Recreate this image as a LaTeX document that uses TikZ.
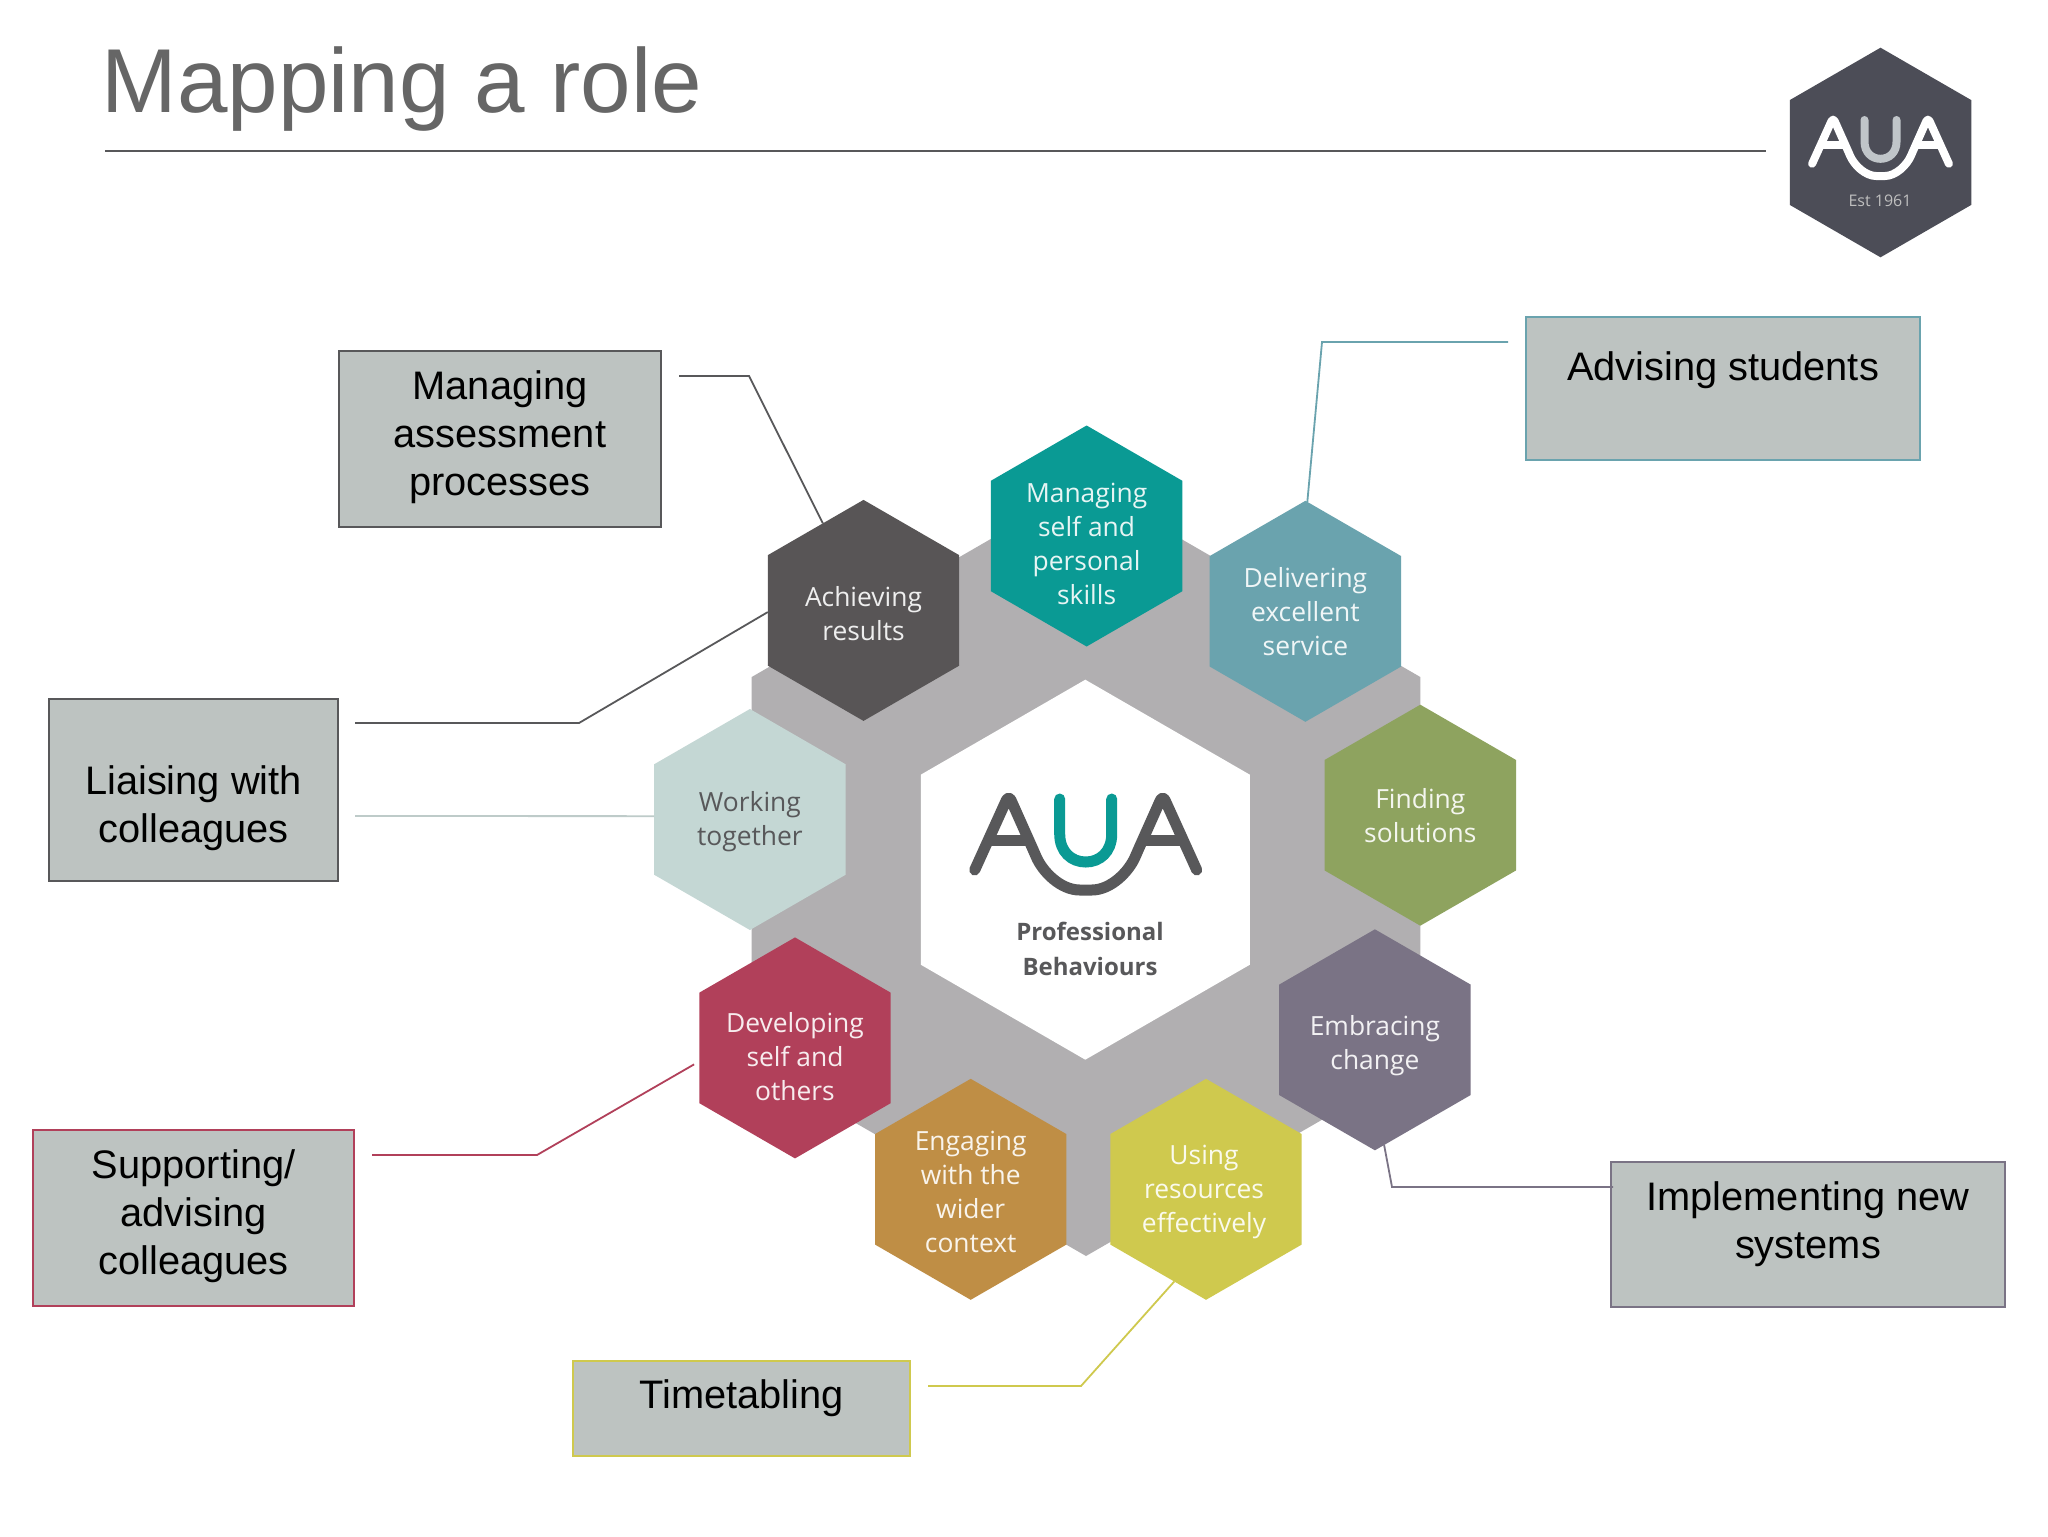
\documentclass[tikz,border=0pt]{standalone}
\usepackage{fontspec}
\setmainfont{Liberation Sans}
\newfontfamily\hexfont{Open Sans}
\usetikzlibrary{shapes.geometric}
\definecolor{boxfill}{HTML}{BDC3C1}
\definecolor{cgray}{HTML}{B1AFB1}
\definecolor{ctitle}{HTML}{666666}
\definecolor{cmanage}{HTML}{0A9A94}
\definecolor{cachieve}{HTML}{585556}
\definecolor{cdeliver}{HTML}{6AA3AE}
\definecolor{cfind}{HTML}{8EA35F}
\definecolor{cembrace}{HTML}{7A7385}
\definecolor{cuse}{HTML}{CFC94E}
\definecolor{cengage}{HTML}{BF8E45}
\definecolor{cdevelop}{HTML}{B1405A}
\definecolor{cwork}{HTML}{C4D7D4}
\definecolor{clogo}{HTML}{4C4D57}
\definecolor{cdark}{HTML}{58585A}
\definecolor{cbadgeu}{HTML}{C0C5C9}
\tikzset{
  hexbase/.style={regular polygon,regular polygon sides=6,shape border rotate=30,inner sep=0pt,outer sep=0pt,draw=none},
  hexa/.style={hexbase,inner ysep=-8pt,inner xsep=-8pt,minimum size=110.5pt,fill=#1,align=center,font=\hexfont\fontsize{13.2}{17}\selectfont,text=white!90!#1},
  lbox/.style n args={3}{rectangle,inner sep=0pt,outer sep=0pt,draw=#1,line width=1pt,fill=boxfill,minimum width=#2,minimum height=#3,align=center,font=\fontsize{19.9}{24}\selectfont,text=black},
  conn/.style={draw=#1,line width=0.9pt,line join=miter}
}
% pushes the text of a hexagon down by #1 (first-line strut)
\newcommand{\hexdown}[1]{\rule{0pt}{\dimexpr 10pt+2\dimexpr #1\relax\relax}}
\newcommand{\aualogo}[7]{%
  \begin{scope}[shift={(#1,#2)},scale=#3]
    \draw[#5,line width=#4,line cap=round] (-26,0) -- (-26,35) .. controls (-26,53) and (-14,63) .. (0,63) .. controls (14,63) and (26,53) .. (26,35) -- (26,0);
    \draw[#6,line width=#4,line cap=round,line join=round,rounded corners=#7] (-111,71) -- (-77,-4) -- (-52,52) .. controls (-43,73) and (-25,91) .. (0,91) .. controls (25,91) and (43,73) .. (52,52) -- (77,-4) -- (111,71);
    \draw[#6,line width=#4] (-96,41) -- (-57,41);
    \draw[#6,line width=#4] (96,41) -- (57,41);
  \end{scope}}
\begin{document}
\begin{tikzpicture}[x=0.5pt,y=-0.5pt]
\useasboundingbox[fill=white] (0,0) rectangle (2048,1536);
% title
\node[anchor=base west,inner sep=0pt,text=ctitle,font=\fontsize{45.4}{50}\selectfont] (title) at (101,112.5) {Mapping a role};
\coordinate (ruleL) at (105,151);
\coordinate (ruleR) at (1766,151);
\draw[cdark,line width=1pt] (ruleL) -- (ruleR);
% small logo
\node[hexbase,minimum size=104.8pt,fill=clogo] (badge) at (1880.5,152.5) {};
\aualogo{1880.5}{120}{0.616}{4pt}{cbadgeu}{white}{2pt}
\node[inner sep=0pt,text=black!25!white,font=\hexfont\fontsize{8}{10}\selectfont] (est) at (1880,201) {Est 1961};
% wheel
\node[hexbase,minimum size=386pt,fill=cgray] (wheel) at (1086,870) {};
\node[hexbase,minimum size=190pt,fill=white] (core) at (1085.3,869.7) {};
\aualogo{1085.7}{799}{1}{5.5pt}{cmanage}{cdark}{3pt}
\node[inner sep=0pt,align=center,text=cdark,font=\hexfont\bfseries\fontsize{12}{17.5}\selectfont] (prof) at (1090,949) {Professional\\Behaviours};
\node[hexa=cmanage] (manage) at (1086.6,536) {\hexdown{4pt}Managing\\self and\\personal\\skills};
\node[hexa=cachieve] (achieve) at (863.5,610.4) {\hexdown{1.6pt}Achieving\\results};
\node[hexa=cdeliver] (deliver) at (1305.4,611.3) {Delivering\\excellent\\service};
\node[hexa=cfind] (find) at (1420.3,815.2) {Finding\\solutions};
\node[hexa=cembrace] (embrace) at (1374.9,1039.8) {\hexdown{2.8pt}Embracing\\change};
\node[hexa=cuse] (use) at (1206,1189.3) {\hexdown{1.3pt}Using\kern2pt\\resources\kern2pt\\effectively\kern2pt};
\node[hexa=cengage] (engage) at (970.7,1189.3) {\hexdown{1.3pt}Engaging\\with the\\wider\\context};
\node[hexa=cdevelop] (develop) at (795,1047.9) {\hexdown{4.5pt}Developing\\self and\\others};
\node[hexa=cwork,text=cdark] (work) at (749.9,819.5) {\hexdown{1.3pt}Working\\together};
% boxes
\node[lbox={cdark}{161pt}{88pt}] (bassess) at (500,439) {Managing\\assessment\\processes\\[-18pt]\mbox{}};
\node[lbox={cdark}{144.5pt}{91pt}] (bliaise) at (193.5,790) {\mbox{}\\[9pt]Liaising with\\colleagues};
\node[lbox={cdevelop}{160.5pt}{88pt}] (bsupport) at (193.7,1218) {Supporting/\\advising\\colleagues\\[-18pt]\mbox{}};
\node[lbox={cdeliver}{197pt}{71.5pt}] (bstudents) at (1723,388.5) {Advising students\\[-2pt]\mbox{}};
\node[lbox={cuse}{168.5pt}{47.5pt}] (btime) at (741.5,1408) {Timetabling\\[-10pt]\mbox{}};
\node[lbox={cembrace}{197pt}{72.5pt}] (bimpl) at (1808,1234.5) {Implementing new\\systems\\[-10pt]\mbox{}};
% connectors
\coordinate (a1) at (679,376); \coordinate (a2) at (749,376);
\draw[conn=cdark] (a1) -- (a2) -- (achieve.115);
\coordinate (l1) at (355,723); \coordinate (l2) at (579,723);
\draw[conn=cdark] (l1) -- (l2) -- (achieve.181);
\coordinate (w1) at (355,816);
\draw[conn=cwork!70!cgray] (w1) -- (work.178);
\coordinate (s1) at (372,1155); \coordinate (s2) at (537,1155);
\draw[conn=cdevelop,shorten >=3pt] (s1) -- (s2) -- (develop.188);
\coordinate (d1) at (1508,342); \coordinate (d2) at (1322,342);
\draw[conn=cdeliver] (d1) -- (d2) -- (deliver.89.5);
\coordinate (i1) at (1613,1187); \coordinate (i2) at (1392,1187);
\draw[conn=cembrace] (i1) -- (i2) -- (embrace.275);
\coordinate (t1) at (928,1386); \coordinate (t2) at (1081,1386);
\draw[conn=cuse] (t1) -- (t2) -- (use.251.8);
\end{tikzpicture}
\end{document}
